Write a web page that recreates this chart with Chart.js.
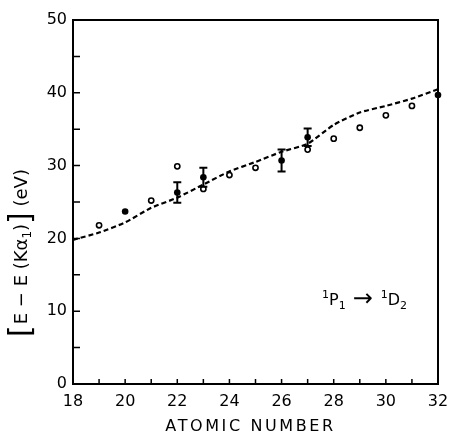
<!DOCTYPE html>
<html>
<head>
<meta charset="utf-8">
<script src="https://cdn.jsdelivr.net/npm/chart.js@4.4.1/dist/chart.umd.min.js"></script>
<style>
  html, body { margin: 0; padding: 0; background: #fff; }
  #wrap { width: 450px; height: 439px; }
</style>
</head>
<body>
<div id="wrap"><canvas id="chart"></canvas></div>
<script>
// dashed theory curve
const curveZ = [18, 19, 20, 21, 22, 23, 24, 25, 26, 27, 28, 29, 30, 31, 32];
const curveE = [19.8, 20.8, 22.2, 24.2, 25.6, 27.4, 29.2, 30.5, 31.9, 33.0, 35.6, 37.3, 38.2, 39.2, 40.5];

// open circles
const openZ = [19, 21, 22, 23, 24, 25, 27, 28, 29, 30, 31];
const openE = [21.8, 25.2, 29.9, 26.8, 28.7, 29.7, 32.2, 33.7, 35.2, 36.9, 38.2];

// filled points, some with error bars
const dotZ = [20, 22, 23, 26, 27, 32];
const dotE = [23.7, 26.3, 28.4, 30.7, 33.9, 39.7];
const dotErr = [0, 1.4, 1.3, 1.5, 1.2, 0];

const xRange = [18, 32];
const yRange = [0, 50];

const FONT = '"DejaVu Sans", sans-serif';

const toPoints = (xs, ys) => xs.map((z, i) => ({ x: z, y: ys[i] }));

const errorBars = {
    id: 'errorBars',
    afterDatasetsDraw(chart) {
        const { ctx, scales: { x, y } } = chart;
        ctx.save();
        ctx.strokeStyle = '#000';
        ctx.lineWidth = 2;
        dotZ.forEach((z, i) => {
            if (!dotErr[i]) return;
            const px = x.getPixelForValue(z);
            const top = y.getPixelForValue(dotE[i] + dotErr[i]);
            const bot = y.getPixelForValue(dotE[i] - dotErr[i]);
            ctx.beginPath();
            ctx.moveTo(px, top); ctx.lineTo(px, bot);
            ctx.moveTo(px - 4, top); ctx.lineTo(px + 4, top);
            ctx.moveTo(px - 4, bot); ctx.lineTo(px + 4, bot);
            ctx.stroke();
        });
        ctx.restore();
    }
};

// draws text pieces one after another, with size, gap and vertical shift
function drawParts(ctx, parts, startX, baseY) {
    let cx = startX;
    parts.forEach(p => {
        cx += p.dx || 0;
        ctx.font = p.size + 'px ' + FONT;
        ctx.fillText(p.t, cx, baseY + (p.dy || 0));
        cx += ctx.measureText(p.t).width;
    });
}
function partsWidth(ctx, parts) {
    let w = 0;
    parts.forEach(p => {
        ctx.font = p.size + 'px ' + FONT;
        w += ctx.measureText(p.t).width + (p.dx || 0);
    });
    return w;
}

const frame = {
    id: 'frame',
    afterDraw(chart) {
        const { ctx, chartArea: a, scales: { x, y } } = chart;
        ctx.save();
        ctx.strokeStyle = '#000';
        ctx.fillStyle = '#000';
        ctx.lineWidth = 2;
        ctx.strokeRect(a.left, a.top, a.right - a.left, a.bottom - a.top);

        // ticks pointing inward
        ctx.lineWidth = 1.5;
        ctx.beginPath();
        for (let v = yRange[0]; v <= yRange[1]; v += 5) {
            const py = y.getPixelForValue(v);
            ctx.moveTo(a.left, py); ctx.lineTo(a.left + 7, py);
        }
        for (let z = xRange[0]; z <= xRange[1]; z++) {
            const px = x.getPixelForValue(z);
            ctx.moveTo(px, a.bottom); ctx.lineTo(px, a.bottom - 5);
        }
        ctx.stroke();

        // x axis title
        ctx.font = '16px ' + FONT;
        ctx.textAlign = 'center';
        ctx.textBaseline = 'alphabetic';
        ctx.letterSpacing = '2.6px';
        ctx.fillText('ATOMIC NUMBER', (a.left + a.right) / 2 - 5, 431);
        ctx.letterSpacing = '0px';

        // y axis title, rotated
        ctx.textAlign = 'left';
        const yTitle = [
            { t: '[', size: 30, dy: 3 },
            { t: 'E − E (Kα', size: 18, dx: 1 },
            { t: '1', size: 12, dy: 4 },
            { t: ')', size: 18 },
            { t: ']', size: 30, dy: 3 },
            { t: ' (eV)', size: 18 }
        ];
        ctx.save();
        ctx.translate(27, 253);
        ctx.rotate(-Math.PI / 2);
        drawParts(ctx, yTitle, -partsWidth(ctx, yTitle) / 2, 0);
        ctx.restore();

        // transition label
        const label = [
            { t: '1', size: 11, dy: -7 },
            { t: 'P', size: 16 },
            { t: '1', size: 11, dy: 4 },
            { t: '→', size: 24, dy: 1, dx: 7 },
            { t: '1', size: 11, dy: -7, dx: 8 },
            { t: 'D', size: 16 },
            { t: '2', size: 11, dy: 4 }
        ];
        drawParts(ctx, label, 322, 305);
        ctx.restore();
    }
};

new Chart(document.getElementById('chart'), {
    type: 'scatter',
    data: {
        datasets: [
            {
                label: 'theory',
                data: toPoints(curveZ, curveE),
                showLine: true,
                borderColor: '#000',
                borderWidth: 2.2,
                borderDash: [5, 3],
                pointRadius: 0,
                tension: 0.2
            },
            {
                label: 'open',
                data: toPoints(openZ, openE),
                pointRadius: 2.6,
                pointBorderWidth: 1.6,
                pointBorderColor: '#000',
                pointBackgroundColor: '#fff'
            },
            {
                label: 'filled',
                data: toPoints(dotZ, dotE),
                pointRadius: 3.3,
                pointBorderWidth: 0,
                pointBackgroundColor: '#000'
            }
        ]
    },
    options: {
        responsive: true,
        maintainAspectRatio: false,
        devicePixelRatio: 1,
        animation: false,
        clip: false,
        layout: { padding: { top: 20, right: 12, left: 0, bottom: 0 } },
        plugins: {
            legend: { display: false },
            tooltip: { enabled: false }
        },
        scales: {
            x: {
                type: 'linear',
                min: xRange[0],
                max: xRange[1],
                grid: { display: false, drawTicks: false },
                border: { display: false },
                ticks: {
                    stepSize: 2,
                    padding: 8,
                    color: '#000',
                    font: { family: FONT, size: 16 }
                },
                afterFit(scale) {
                    scale.height = 55;
                    scale.paddingLeft = 0;
                    scale.paddingRight = 0;
                }
            },
            y: {
                min: yRange[0],
                max: yRange[1],
                grid: { display: false, drawTicks: false },
                border: { display: false },
                ticks: {
                    stepSize: 10,
                    padding: 6,
                    color: '#000',
                    font: { family: FONT, size: 16 }
                },
                afterFit(scale) {
                    scale.width = 73;
                    scale.paddingTop = 0;
                    scale.paddingBottom = 0;
                }
            }
        }
    },
    plugins: [errorBars, frame]
});
</script>
</body>
</html>
